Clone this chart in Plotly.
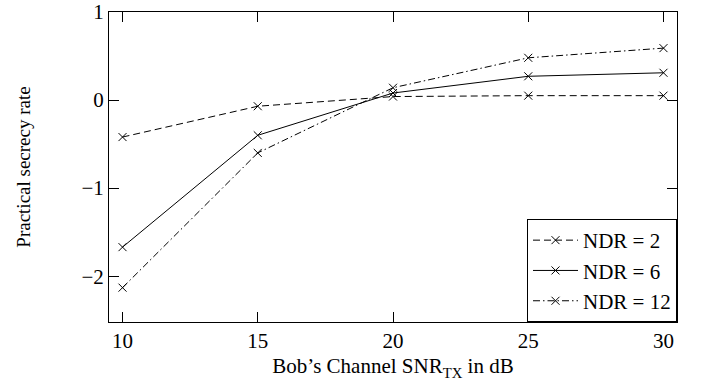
import plotly.graph_objects as go

# Bob's channel SNR (dB)
snr_db = [10, 15, 20, 25, 30]

# Practical secrecy rate for each NDR setting
rate_ndr2 = [-0.42, -0.07, 0.04, 0.05, 0.05]
rate_ndr6 = [-1.67, -0.40, 0.08, 0.27, 0.31]
rate_ndr12 = [-2.13, -0.60, 0.14, 0.48, 0.59]

series_names = ["NDR = 2", "NDR = 6", "NDR = 12"]
x_ticks = [10, 15, 20, 25, 30]
y_ticks = [-2, -1, 0, 1]
y_tick_text = ["−2", "−1", "0", "1"]

FONT = "Liberation Serif"

line_dashes = ["7px,4px", "solid", "7px,3px,1.5px,3px"]

fig = go.Figure()
for name, ys, dash in zip(series_names, [rate_ndr2, rate_ndr6, rate_ndr12], line_dashes):
    fig.add_trace(go.Scatter(
        x=snr_db, y=ys, name=name, mode="lines+markers",
        line=dict(color="black", width=1, dash=dash),
        marker=dict(symbol="x-thin", size=8, line=dict(color="black", width=1)),
    ))

axis_common = dict(
    showgrid=False, zeroline=False, automargin=False,
    showline=True, linecolor="black", linewidth=1, mirror="allticks",
    ticks="inside", ticklen=10, tickcolor="black", tickwidth=1,
    tickfont=dict(family=FONT, size=21, color="black"),
)

fig.update_layout(
    width=704, height=383,
    margin=dict(l=109, r=27, t=12, b=61, autoexpand=False),
    paper_bgcolor="white", plot_bgcolor="white",
    font=dict(family=FONT, color="black", size=17),
    xaxis=dict(
        range=[9.5, 30.5], tickvals=x_ticks,
        title=dict(text="Bob’s Channel SNR<sub>TX</sub> in dB",
                   font=dict(family=FONT, size=21, color="black"), standoff=6),
        **axis_common,
    ),
    yaxis=dict(
        range=[-2.52, 1], tickvals=y_ticks, ticktext=y_tick_text,
        title=dict(text="Practical secrecy rate",
                   font=dict(family=FONT, size=19, color="black"), standoff=45),
        **axis_common,
    ),
    legend=dict(
        x=1, y=0, xanchor="right", yanchor="bottom",
        bgcolor="white", bordercolor="black", borderwidth=1,
        font=dict(family=FONT, size=21, color="black"),
        tracegroupgap=0, itemwidth=45,
    ),
    showlegend=True,
)

fig.write_html("out.html")
